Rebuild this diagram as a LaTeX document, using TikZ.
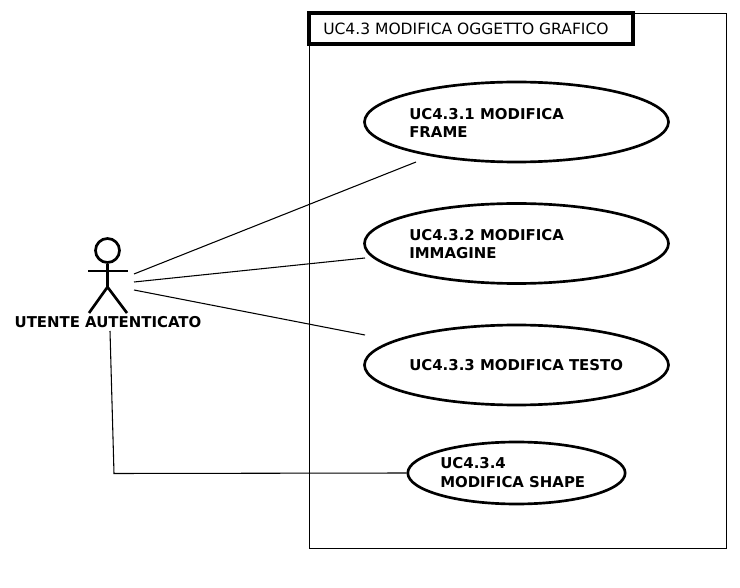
\documentclass[tikz,border=0pt]{standalone}
\usepackage{fontspec}
\setmainfont{DejaVu Sans}
\usetikzlibrary{shapes.geometric}
\begin{document}
\begin{tikzpicture}[x=0.75pt,y=-0.75pt,
  uc/.style={draw,ellipse,line width=2pt,inner sep=0pt,fill=white},
  lbl/.style={font=\bfseries\fontsize{11.2pt}{14pt}\selectfont,align=left,anchor=west,inner sep=0pt},
  limb/.style={line width=2pt},
  conn/.style={line width=0.8pt}]
\useasboundingbox (0,0) rectangle (740,588);
\fill[white] (0,0) rectangle (740,588);
\draw[line width=0.6pt] (309.5,13.5) rectangle (726.5,548.5);
\node[draw,line width=2.4pt,minimum width=243pt,minimum height=23.25pt,inner sep=0pt,fill=white] (title) at (471,28.5) {};
\node[font=\fontsize{11.65pt}{14pt}\selectfont,anchor=west,inner sep=0pt] (titletext) at (323,29) {UC4.3 MODIFICA OGGETTO GRAFICO};
\node[uc,minimum width=228pt,minimum height=60pt] (u1) at (516.5,122) {};
\node[uc,minimum width=228pt,minimum height=60pt] (u2) at (516.5,243.5) {};
\node[uc,minimum width=228pt,minimum height=60pt] (u3) at (516.5,365) {};
\node[uc,minimum width=163pt,minimum height=46.5pt] (u4) at (516.5,473) {};
\node[lbl] (t1) at (409,123) {UC4.3.1 MODIFICA\\FRAME};
\node[lbl] (t2) at (409,244) {UC4.3.2 MODIFICA\\IMMAGINE};
\node[lbl] (t3) at (409,365.5) {UC4.3.3 MODIFICA TESTO};
\node[lbl] (t4) at (440,472.5) {UC4.3.4\\MODIFICA SHAPE};
% actor
\node[draw,circle,line width=2pt,minimum size=18pt,inner sep=0pt] (head) at (107.5,250.5) {};
\coordinate (hip) at (107.5,287);
\draw[limb] (head.south) -- (hip);
\draw[limb] (88,271) -- (128,271);
\draw[limb] (89,313) -- (hip) -- (127,313);
\node[font=\bfseries\fontsize{11.2pt}{14pt}\selectfont,inner sep=0pt] (actor) at (108,322.5) {UTENTE AUTENTICATO};
\coordinate (a1) at (134,274);
\coordinate (a2) at (134,282);
\coordinate (a3) at (134,290);
\coordinate (e1) at (416,162);
\coordinate (e2) at (365,258);
\coordinate (e3) at (365,335);
\coordinate (a4) at (110,331);
\coordinate (b4) at (114,473.5);
\draw[conn] (a1) -- (e1);
\draw[conn] (a2) -- (e2);
\draw[conn] (a3) -- (e3);
\draw[conn] (a4) -- (b4) -- (u4.west);
\end{tikzpicture}
\end{document}
